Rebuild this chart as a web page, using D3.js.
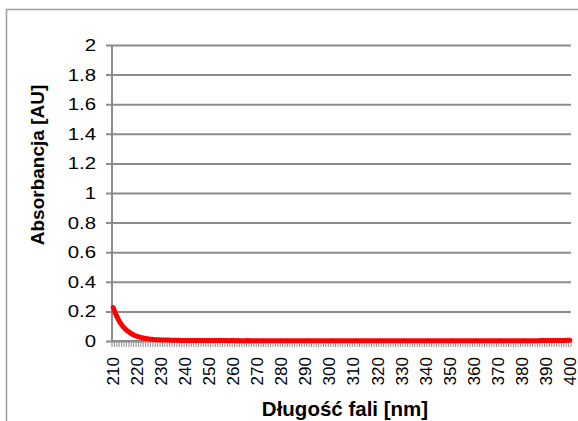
<!DOCTYPE html>
<html>
<head>
<meta charset="utf-8">
<script src="https://cdn.jsdelivr.net/npm/d3@7"></script>
<style>
  html, body { margin: 0; padding: 0; background: #fff; }
  svg { display: block; font-family: "Liberation Sans", Arial, sans-serif; }
</style>
</head>
<body>
<svg id="chart" width="578" height="421"></svg>
<script>
// Wavelengths 210–400 nm, one reading per nm
const wavelengths = d3.range(210, 401);

// Measured absorbance [AU] for each wavelength
const absorbance = [
  0.225, 0.183, 0.149, 0.122, 0.099, 0.081, 0.067, 0.055, 0.045, 0.037,
  0.031, 0.026, 0.022, 0.018, 0.016, 0.013, 0.012, 0.010, 0.009, 0.008,
  0.007, 0.007, 0.006, 0.006, 0.005, 0.005, 0.005, 0.005, 0.004, 0.004,
  0.004, 0.004, 0.004, 0.004, 0.004, 0.003, 0.004, 0.003, 0.003, 0.003,
  0.003, 0.003, 0.003, 0.003, 0.003, 0.003, 0.003, 0.003, 0.002, 0.003,
  0.003, 0.002, 0.003, 0.002, 0.002, 0.002, 0.003, 0.002, 0.002, 0.002,
  0.002, 0.002, 0.002, 0.002, 0.002, 0.002, 0.002, 0.002, 0.002, 0.002,
  0.002, 0.002, 0.002, 0.002, 0.002, 0.002, 0.002, 0.002, 0.002, 0.002,
  0.002, 0.002, 0.002, 0.002, 0.002, 0.002, 0.002, 0.002, 0.002, 0.002,
  0.002, 0.002, 0.002, 0.002, 0.002, 0.002, 0.002, 0.002, 0.002, 0.002,
  0.002, 0.002, 0.002, 0.002, 0.002, 0.002, 0.002, 0.002, 0.002, 0.002,
  0.002, 0.002, 0.002, 0.002, 0.002, 0.002, 0.002, 0.002, 0.002, 0.002,
  0.002, 0.002, 0.002, 0.002, 0.002, 0.002, 0.002, 0.002, 0.002, 0.002,
  0.002, 0.002, 0.002, 0.002, 0.002, 0.002, 0.002, 0.002, 0.002, 0.002,
  0.002, 0.002, 0.002, 0.002, 0.002, 0.002, 0.002, 0.002, 0.002, 0.002,
  0.002, 0.002, 0.002, 0.002, 0.002, 0.002, 0.002, 0.002, 0.002, 0.002,
  0.002, 0.002, 0.002, 0.002, 0.002, 0.002, 0.002, 0.002, 0.002, 0.002,
  0.002, 0.002, 0.002, 0.002, 0.002, 0.002, 0.002, 0.002, 0.003, 0.003,
  0.003, 0.003, 0.003, 0.003, 0.003, 0.003, 0.003, 0.004, 0.004, 0.005,
  0.005
];

// Axis ticks
const yTicks = [0, 0.2, 0.4, 0.6, 0.8, 1, 1.2, 1.4, 1.6, 1.8, 2];
const xTickLabels = d3.range(210, 401, 10);

const yTitle = "Absorbancja [AU]";
const xTitle = "Długość fali [nm]";

const svg = d3.select("#chart");
const plot = { left: 112, right: 571, top: 45, bottom: 341 };
const gridColor = "#8c8c8c";

// Outer chart frame
svg.append("rect")
  .attr("x", 6.5).attr("y", 9.5)
  .attr("width", 600).attr("height", 500)
  .attr("fill", "none").attr("stroke", "#a0a0a0").attr("stroke-width", 1.5);

const x = d3.scaleBand()
  .domain(wavelengths)
  .range([plot.left, plot.right])
  .paddingInner(0).paddingOuter(0);

const y = d3.scaleLinear()
  .domain([0, 2])
  .range([plot.bottom, plot.top]);

// Horizontal gridlines with outer tick marks
const yAxis = d3.axisLeft(y)
  .tickValues(yTicks)
  .tickSize(plot.right - plot.left + 6)
  .tickFormat("");

const gy = svg.append("g")
  .attr("transform", `translate(${plot.right},0)`)
  .call(yAxis);
gy.select(".domain").remove();
gy.selectAll(".tick line")
  .attr("stroke", gridColor).attr("stroke-width", 2);

// Value labels, slightly widened
const fmt = d3.format("~g");
svg.append("g")
  .selectAll("text")
  .data(yTicks)
  .join("text")
  .attr("transform", d => `translate(96,${y(d)}) scale(1.2,1)`)
  .attr("text-anchor", "end")
  .attr("dy", "0.35em")
  .attr("font-size", 17)
  .attr("fill", "#000")
  .text(d => fmt(d));

// Vertical axis line
svg.append("line")
  .attr("x1", plot.left).attr("x2", plot.left)
  .attr("y1", plot.top).attr("y2", plot.bottom)
  .attr("stroke", gridColor).attr("stroke-width", 2);

// Category tick marks at every band boundary
const boundaries = wavelengths.map(w => x(w)).concat([plot.right]);
svg.append("g")
  .selectAll("line")
  .data(boundaries)
  .join("line")
  .attr("x1", d => d).attr("x2", d => d)
  .attr("y1", plot.bottom).attr("y2", plot.bottom + 6)
  .attr("stroke", gridColor).attr("stroke-width", 1);

// Horizontal axis line
svg.append("line")
  .attr("x1", plot.left).attr("x2", plot.right)
  .attr("y1", plot.bottom).attr("y2", plot.bottom)
  .attr("stroke", gridColor).attr("stroke-width", 2);

// Rotated category labels every 10 nm
svg.append("g")
  .selectAll("text")
  .data(xTickLabels)
  .join("text")
  .attr("transform", d => `translate(${x(d) + x.bandwidth() / 2},${plot.bottom + 16}) rotate(-90)`)
  .attr("text-anchor", "end")
  .attr("dy", "0.35em")
  .attr("font-size", 17)
  .attr("fill", "#000")
  .text(d => d);

// Absorbance curve
const line = d3.line()
  .x((d, i) => x(wavelengths[i]) + x.bandwidth() / 2)
  .y(d => y(d));

svg.append("path")
  .datum(absorbance)
  .attr("d", line)
  .attr("fill", "none")
  .attr("stroke", "#ff0000")
  .attr("stroke-width", 5)
  .attr("stroke-linejoin", "round")
  .attr("stroke-linecap", "round");

// Axis titles
svg.append("text")
  .attr("transform", "translate(44,165) rotate(-90)")
  .attr("text-anchor", "middle")
  .attr("font-size", 19)
  .attr("font-weight", "bold")
  .text(yTitle);

svg.append("text")
  .attr("x", 345)
  .attr("y", 416)
  .attr("text-anchor", "middle")
  .attr("font-size", 20.5)
  .attr("font-weight", "bold")
  .text(xTitle);
</script>
</body>
</html>
